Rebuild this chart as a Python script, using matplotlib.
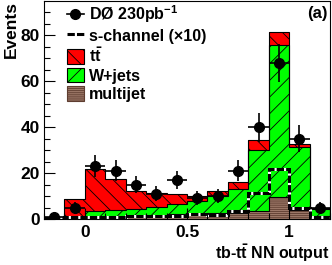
import numpy as np
import matplotlib
matplotlib.use("Agg")
import matplotlib.pyplot as plt
from matplotlib.patches import Patch
from matplotlib.lines import Line2D

plt.rcParams['font.family'] = ['Liberation Sans', 'DejaVu Sans']
plt.rcParams['font.weight'] = 'bold'
plt.rcParams['axes.labelweight'] = 'bold'
plt.rcParams['mathtext.fontset'] = 'custom'
plt.rcParams['mathtext.rm'] = 'Liberation Sans:bold'
plt.rcParams['mathtext.bf'] = 'Liberation Sans:bold'
plt.rcParams['hatch.linewidth'] = 0.6

# bins of the NN output
edges = np.round(np.arange(-0.2, 1.21, 0.1), 2)
centers = edges[:-1] + 0.05

data = [1, 5, 23, 21, 15, 11, 17, 9, 10, 21, 40, 68, 35, 5]
multijet = [0.3, 0.5, 0.8, 1.0, 1.2, 1.5, 2.0, 2.3, 2.5, 2.5, 3.5, 9.4, 3.9, 1.2]
wjets = [0.0, 0.0, 2.5, 3.0, 3.3, 3.9, 4.5, 5.7, 7.6, 10.7, 26.5, 66.6, 27.5, 3.1]
ttbar = [0.5, 8.2, 18.4, 13.6, 7.8, 5.8, 4.4, 2.1, 2.1, 2.8, 4.3, 5.7, 1.2, 0.3]
schan_x10 = [0.5, 0.8, 1.0, 1.0, 1.2, 1.4, 1.5, 2.1, 1.8, 3.5, 11.4, 22.0, 5.0, 0.8]

multijet = np.array(multijet)
wjets = np.array(wjets)
ttbar = np.array(ttbar)
cum_w = multijet + wjets
total = cum_w + ttbar

fig = plt.figure(figsize=(3.32, 2.65), dpi=100)
ax = fig.add_axes([44 / 332, 46 / 265, 286 / 332, 218 / 265])

ax.bar(centers, multijet, width=0.1, color='#9c7868', edgecolor='#5e3d30',
       hatch='--------', linewidth=0)
ax.bar(centers, wjets, width=0.1, bottom=multijet, color='#00ff00',
       edgecolor='black', hatch='//', linewidth=0)
ax.bar(centers, ttbar, width=0.1, bottom=cum_w, color='#ff0000',
       edgecolor='black', hatch='\\\\', linewidth=0)
for lev in (multijet, cum_w, total):
    ax.stairs(lev, edges, color='black', lw=0.8)

# s-channel x10: black dashes with white gaps
ax.stairs(schan_x10, edges, color='white', lw=2.2)
sl = ax.stairs(schan_x10, edges, color='black', lw=2.2)
sl.set_linestyle((0, (2.4, 0.7)))

ax.errorbar(centers, data, xerr=0.05, yerr=np.sqrt(data), fmt='o', color='black',
            ms=7, elinewidth=1.2, capsize=0)

ax.set_xlim(-0.2, 1.2)
ax.set_ylim(0, 95)
ax.set_xticks([0, 0.5, 1])
ax.set_xticklabels(['0', '0.5', '1'])
ax.set_xticks(np.arange(-0.2, 1.21, 0.1), minor=True)
ax.set_yticks([0, 20, 40, 60, 80])
ax.set_yticks(np.arange(0, 95, 5), minor=True)
ax.tick_params(which='both', direction='in', top=False, right=False,
               labelsize=12.5)
ax.tick_params(which='major', length=8, width=0.8)
ax.tick_params(which='minor', length=4, width=0.8)
ax.tick_params(axis='x', pad=4)
ax.tick_params(axis='y', pad=3)

ax.set_ylabel('Events', loc='top', fontsize=12.5, labelpad=1)
ax.set_xlabel(r'tb-t$\bar{\mathrm{t}}$ NN output', loc='right', fontsize=11.5,
              labelpad=2)
ax.text(0.99, 0.975, '(a)', transform=ax.transAxes, ha='right', va='top',
        fontsize=12)

handles = [
    Line2D([], [], color='black', marker='o', ms=7, lw=1.2),
    Line2D([], [], color='black', lw=2.2, ls=(0, (2.4, 0.7))),
    Patch(facecolor='#ff0000', edgecolor='black', hatch='\\\\', lw=0.8),
    Patch(facecolor='#00ff00', edgecolor='black', hatch='//', lw=0.8),
    Patch(facecolor='#9c7868', edgecolor='#5e3d30', hatch='--------', lw=0.8),
]
labels = [r'DØ 230pb$^{-1}$', 's-channel (×10)', r't$\bar{\mathrm{t}}$',
          'W+jets', 'multijet']
ax.legend(handles, labels, loc='upper left', bbox_to_anchor=(0.04, 1.04),
          frameon=False, fontsize=11.5, handlelength=1.1, handleheight=1.0,
          handletextpad=0.3, labelspacing=0.18, borderpad=0.2)

fig.savefig('out.png', dpi=100)
